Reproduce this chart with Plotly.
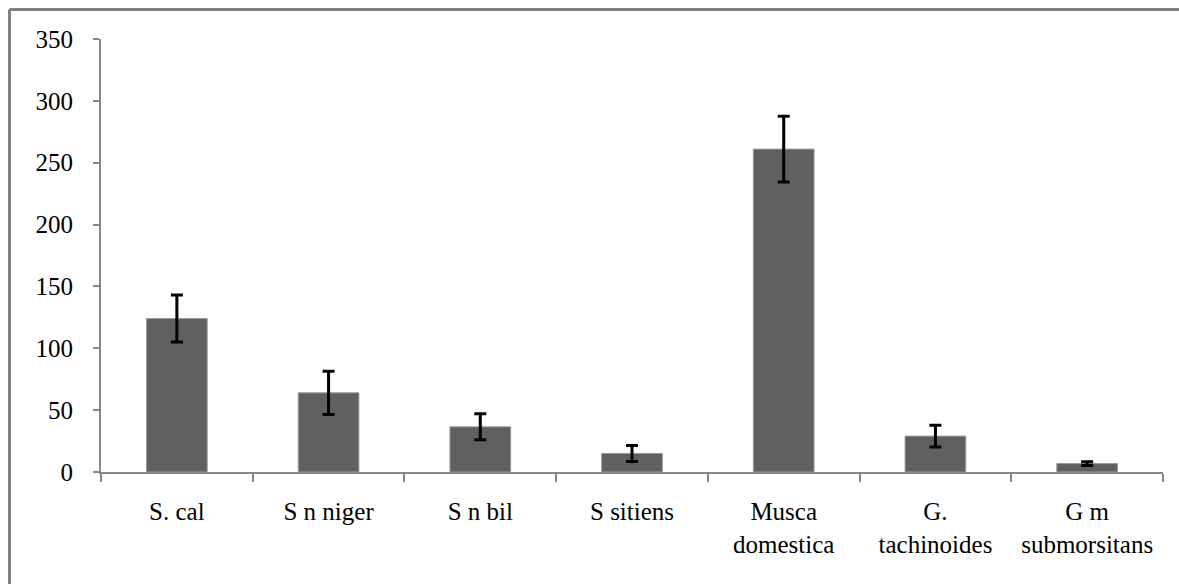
import plotly.graph_objects as go

# Mean counts per species with their error margins
species = ["S. cal", "S n niger", "S n bil", "S sitiens",
           "Musca<br>domestica", "G.<br>tachinoides", "G m<br>submorsitans"]
means = [124, 64, 36.5, 15, 261, 29, 6.8]
errors = [19, 17.5, 10.5, 6.5, 26.5, 8.8, 1.5]
y_ticks = [0, 50, 100, 150, 200, 250, 300, 350]

W, H = 1179, 584
left, right, top, bottom = 101, 16, 39, 112

fig = go.Figure(go.Bar(
    x=species,
    y=means,
    marker=dict(color="#606060", line=dict(color="#9a9a9a", width=1)),
    error_y=dict(type="data", array=errors, visible=True,
                 color="#000000", thickness=3, width=6),
))

axis_font = dict(family="Liberation Serif", size=25, color="#000000")

fig.update_layout(
    width=W, height=H,
    margin=dict(l=left, r=right, t=top, b=bottom, pad=0),
    paper_bgcolor="#ffffff",
    plot_bgcolor="#ffffff",
    bargap=0.6,
    showlegend=False,
    font=axis_font,
)

fig.update_xaxes(
    type="category",
    range=[-0.5, 6.5],
    showline=True, linecolor="#888888", linewidth=2,
    ticks="outside", tickson="boundaries", ticklen=8, tickwidth=2, tickcolor="#888888",
    showgrid=False, zeroline=False,
    tickfont=axis_font,
    ticklabelstandoff=16,
)

fig.update_yaxes(
    range=[0, 350],
    tickvals=y_ticks,
    showline=True, linecolor="#888888", linewidth=2,
    ticks="outside", ticklen=6, tickwidth=2, tickcolor="#888888",
    showgrid=False, zeroline=False,
    tickfont=axis_font,
    ticklabelstandoff=15,
)

# Outer chart frame: top and left edges (the others run past the page)
pw, ph = W - left - right, H - top - bottom
fx = (9.5 - left) / pw
fy = ((H - bottom) - 9.5) / ph
frame = dict(color="#808080", width=3)
fig.add_shape(type="line", xref="paper", yref="paper",
              x0=fx, x1=(W + 10 - left) / pw, y0=fy, y1=fy, line=frame)
fig.add_shape(type="line", xref="paper", yref="paper",
              x0=fx, x1=fx, y0=fy, y1=-(bottom + 10) / ph, line=frame)

# Keep the page itself from scrolling
no_scroll = ("document.documentElement.style.overflow='hidden';"
             "document.body.style.overflow='hidden';"
             "document.body.style.margin='0';")

fig.write_html("out.html", post_script=no_scroll)
